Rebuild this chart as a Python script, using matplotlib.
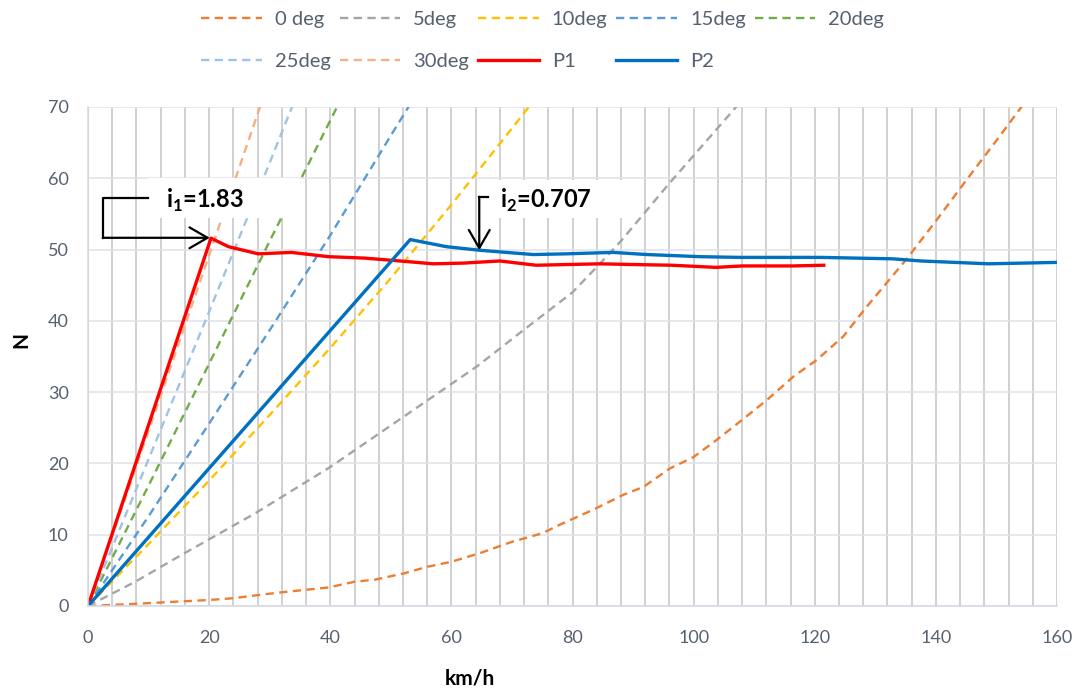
import matplotlib
matplotlib.use('Agg')
import matplotlib.pyplot as plt
from matplotlib.patches import Rectangle

plt.rcParams['font.family'] = ['Lato', 'DejaVu Sans']
plt.rcParams['mathtext.fontset'] = 'custom'
plt.rcParams['mathtext.rm'] = 'Lato'
plt.rcParams['mathtext.bf'] = 'Lato:bold'

# speed (km/h) vs N
v_0deg = [0, 7.8, 12.2, 19.9, 23.7, 31.4, 39.7, 44, 47.4, 52.3, 56, 60, 65, 70, 75, 77.9,
          83.4, 88.4, 91.7, 96.1, 100, 103.8, 107.7, 112.1, 116.5, 120.3, 124.7, 128.6,
          135, 140, 145, 150, 155]
n_0deg = [0, 0.3, 0.5, 0.84, 1.07, 1.87, 2.6, 3.4, 3.7, 4.6, 5.5, 6.2, 7.5, 9.0, 10.2, 11.4,
          13.5, 15.6, 16.7, 19.3, 20.9, 23.3, 25.9, 28.9, 32.2, 34.5, 37.8, 42.0,
          48.5, 54.0, 59.7, 65.3, 71.0]

v_5deg = [0, 7.8, 15.5, 27.6, 40, 52.2, 64.2, 71.9, 80, 84.5, 88, 96, 106.6, 108]
n_5deg = [0, 3.4, 7.2, 13.0, 19.5, 26.6, 33.6, 38.7, 44.0, 48.0, 51.2, 59.3, 69.6, 71]

v_10deg = [0, 10, 20, 30, 40, 50, 60, 70, 74]
n_10deg = [0, 8.7, 17.6, 26.8, 36.2, 46.0, 56.3, 67.0, 71.3]

v_15deg = [0, 10, 20, 30, 40, 50, 54]
n_15deg = [0, 12.6, 25.6, 38.7, 52.0, 66.0, 71.5]

v_20deg = [0, 10, 20, 30, 42]
n_20deg = [0, 16.9, 34.0, 51.2, 71.5]

v_25deg = [0, 10, 20, 30, 35]
n_25deg = [0, 20.6, 41.3, 62.2, 72.8]

v_30deg = [0, 10, 20, 29]
n_30deg = [0, 24.6, 49.2, 71.5]

v_p1 = [0, 20.3, 23.2, 28.1, 33.6, 39.7, 45.7, 51.5, 57.0, 62, 68.0, 74.0, 84.5, 90,
        96.4, 103.7, 108, 116.3, 121.5]
n_p1 = [0, 51.6, 50.4, 49.4, 49.6, 49.0, 48.8, 48.4, 48.0, 48.1, 48.4, 47.8, 48.0, 47.9,
        47.8, 47.5, 47.7, 47.7, 47.8]

v_p2 = [0, 53.2, 59.2, 64.7, 73.5, 79.0, 86.7, 92.3, 101.1, 107.7, 121, 132.9, 137.5,
        148.7, 160]
n_p2 = [0, 51.4, 50.4, 49.9, 49.3, 49.4, 49.6, 49.3, 49.0, 48.9, 48.9, 48.7, 48.4,
        48.0, 48.2]

fig = plt.figure(figsize=(10.79, 6.88), dpi=100)
ax = fig.add_axes([0.0816, 0.1192, 0.898, 0.7253])

dash = (3.5, 2.3)
lines = {}
lines['0 deg'], = ax.plot(v_0deg, n_0deg, color='#ED7D31', lw=1.7, dashes=dash)
lines['5deg'], = ax.plot(v_5deg, n_5deg, color='#A5A5A5', lw=1.7, dashes=dash)
lines['10deg'], = ax.plot(v_10deg, n_10deg, color='#FFC000', lw=1.7, dashes=dash)
lines['15deg'], = ax.plot(v_15deg, n_15deg, color='#5B9BD5', lw=1.7, dashes=dash)
lines['20deg'], = ax.plot(v_20deg, n_20deg, color='#70AD47', lw=1.7, dashes=dash)
lines['25deg'], = ax.plot(v_25deg, n_25deg, color='#9DC3E6', lw=1.7, dashes=dash)
lines['30deg'], = ax.plot(v_30deg, n_30deg, color='#F4B183', lw=1.7, dashes=dash)
lines['P1'], = ax.plot(v_p1, n_p1, color='#FF0000', lw=2.4)
lines['P2'], = ax.plot(v_p2, n_p2, color='#0070C0', lw=2.4)

ax.set_xlim(0, 160)
ax.set_ylim(0, 70)
ax.set_xticks(range(0, 161, 20))
ax.set_xticks(range(0, 161, 4), minor=True)
ax.set_yticks(range(0, 71, 10))
ax.grid(axis='x', which='both', color='#c4c4c8', lw=1.1, zorder=0)
ax.grid(axis='y', which='major', color='#dfe2ea', lw=1.1, zorder=0)
ax.set_axisbelow(True)
ax.tick_params(which='both', length=0, labelsize=13, labelcolor='#566170')
ax.tick_params(axis='x', pad=17)
ax.tick_params(axis='y', pad=14)
for s in ['top', 'right']:
    ax.spines[s].set_visible(False)
for s in ['left', 'bottom']:
    ax.spines[s].set_color('#d3d8e2')
    ax.spines[s].set_linewidth(1.1)

ax.set_xlabel('km/h', fontsize=15, fontweight='bold')
ax.xaxis.set_label_coords(0.394, -0.125)
ax.set_ylabel('N', fontsize=15, fontweight='bold')
ax.yaxis.set_label_coords(-0.058, 0.533)

# annotation boxes, text and elbow arrows
ax.add_patch(Rectangle((9.9, 54.4), 25.1, 5.6, facecolor='white', edgecolor='none', zorder=5))
ax.add_patch(Rectangle((66.4, 54.4), 24.4, 5.3, facecolor='white', edgecolor='none', zorder=5))
ax.text(12.8, 56.9, r'i$_\mathbf{1}$=1.83', fontsize=17, fontweight='bold',
        ha='left', va='center', zorder=6)
ax.text(68.0, 56.9, r'i$_\mathbf{2}$=0.707', fontsize=17, fontweight='bold',
        ha='left', va='center', zorder=6)

head = '->,head_length=1.3,head_width=0.75'
ax.plot([9.96, 2.43, 2.43], [57.3, 57.3, 51.65], color='black', lw=1.6, zorder=6)
ax.annotate('', xy=(20.1, 51.65), xytext=(2.43, 51.65), zorder=6,
            arrowprops=dict(arrowstyle=head, color='black', lw=1.6, shrinkA=0, shrinkB=0))
ax.plot([66.1, 64.6], [57.4, 57.4], color='black', lw=1.6, zorder=6)
ax.annotate('', xy=(64.6, 49.9), xytext=(64.6, 57.4), zorder=6,
            arrowprops=dict(arrowstyle=head, color='black', lw=1.6, shrinkA=0, shrinkB=0))

order = ['0 deg', '25deg', '5deg', '30deg', '10deg', 'P1', '15deg', 'P2', '20deg']
leg = fig.legend([lines[k] for k in order], order, loc='upper center',
                 bbox_to_anchor=(0.503, 1.01), ncol=5, frameon=False, fontsize=14.5,
                 handlelength=3.0, handletextpad=0.65, columnspacing=0.45, labelspacing=1.2)
for t in leg.get_texts():
    t.set_color('#566170')

fig.savefig('out.png', dpi=100)
